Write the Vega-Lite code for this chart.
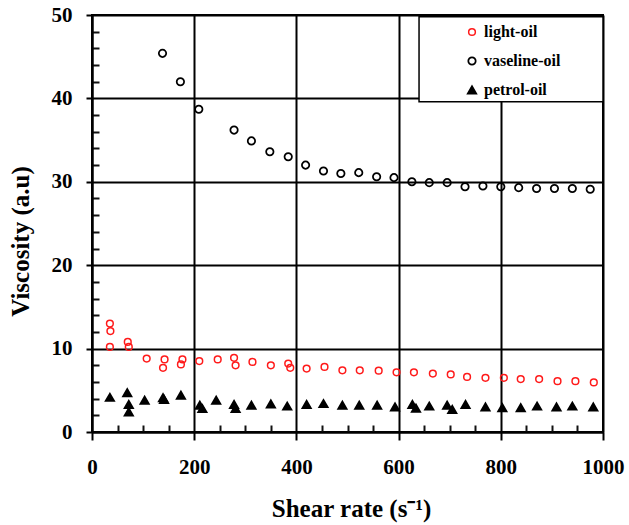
{
  "$schema": "https://vega.github.io/schema/vega-lite/v6.json",
  "width": 511,
  "height": 417,
  "autosize": {"type": "none"},
  "padding": {"left": 92, "top": 15, "right": 26, "bottom": 93},
  "background": "white",
  "config": {
    "view": {"stroke": "black", "strokeWidth": 2},
    "axis": {
      "domainColor": "black", "domainWidth": 2, "ticks": true,
      "tickColor": "black", "tickWidth": 2, "tickOpacity": 1,
      "gridColor": "black", "gridWidth": 2,
      "labelFont": "Liberation Serif", "labelFontWeight": "bold", "labelFontSize": 21, "labelColor": "black",
      "labelOverlap": false, "labelBound": false, "labelFlush": false,
      "titleFont": "Liberation Serif", "titleFontWeight": "bold", "titleFontSize": 25, "titleColor": "black"
    },
    "legend": {
      "labelFont": "Liberation Serif", "labelFontWeight": "bold", "labelFontSize": 16, "labelColor": "black"
    }
  },
  "encoding": {
    "x": {"field": "shear", "type": "quantitative", "scale": {"domain": [0, 1000], "nice": false, "zero": false},
          "axis": {"orient": "bottom",
                   "values": [0,50,100,150,200,250,300,350,400,450,500,550,600,650,700,750,800,850,900,950,1000],
                   "ticks": true,
                   "tickSize": {"condition": {"test": "datum.value % 200 === 0", "value": 8}, "value": -7},
                   "tickColor": {"condition": {"test": "datum.value % 200 === 0", "value": "#000000"}, "value": "#111111"},
                   "gridOpacity": {"condition": {"test": "datum.value % 200 === 0", "value": 1}, "value": 0},
                   "labelExpr": "datum.value % 200 === 0 ? format(datum.value, 'd') : ''",
                   "labelPadding": 16,
                   "grid": true, "title": "Shear rate (s⁻¹)", "titleX": 259, "titleY": 76,
                   "titleAlign": "center", "titleBaseline": "middle"}},
    "y": {"field": "visc", "type": "quantitative", "scale": {"domain": [0, 50], "nice": false, "zero": false},
          "axis": {"orient": "left",
                   "values": [0,2,4,6,8,10,12,14,16,18,20,22,24,26,28,30,32,34,36,38,40,42,44,46,48,50],
                   "ticks": true,
                   "tickSize": {"condition": {"test": "datum.value % 10 === 0", "value": 6}, "value": -7},
                   "tickColor": {"condition": {"test": "datum.value % 10 === 0", "value": "#000000"}, "value": "#111111"},
                   "gridOpacity": {"condition": {"test": "datum.value % 10 === 0", "value": 1}, "value": 0},
                   "labelExpr": "datum.value % 10 === 0 ? format(datum.value, 'd') : ''",
                   "labelPadding": 14,
                   "grid": true, "title": "Viscosity (a.u)", "titleX": -72, "titleY": 226,
                   "titleAngle": 270, "titleAlign": "center", "titleBaseline": "middle"}}
  },
  "layer": [
    {
      "data": {"values": [{"shear": 640, "shear2": 1000, "visc": 49.8, "visc2": 39.6}]},
      "mark": {"type": "rect", "fill": "white", "stroke": "black", "strokeWidth": 1.5},
      "encoding": {
        "x2": {"field": "shear2"},
        "y2": {"field": "visc2"}
      }
    },
    {
      "data": {"values": [
        {"series": "light-oil", "shear": 35, "visc": 13.0},
        {"series": "light-oil", "shear": 36, "visc": 12.1},
        {"series": "light-oil", "shear": 35, "visc": 10.2},
        {"series": "light-oil", "shear": 70, "visc": 10.8},
        {"series": "light-oil", "shear": 72, "visc": 10.2},
        {"series": "light-oil", "shear": 107, "visc": 8.8},
        {"series": "light-oil", "shear": 142, "visc": 8.7},
        {"series": "light-oil", "shear": 139, "visc": 7.7},
        {"series": "light-oil", "shear": 177, "visc": 8.7},
        {"series": "light-oil", "shear": 174, "visc": 8.1},
        {"series": "light-oil", "shear": 210, "visc": 8.5},
        {"series": "light-oil", "shear": 246, "visc": 8.7},
        {"series": "light-oil", "shear": 278, "visc": 8.9},
        {"series": "light-oil", "shear": 281, "visc": 8.0},
        {"series": "light-oil", "shear": 314, "visc": 8.4},
        {"series": "light-oil", "shear": 350, "visc": 8.0},
        {"series": "light-oil", "shear": 384, "visc": 8.2},
        {"series": "light-oil", "shear": 388, "visc": 7.7},
        {"series": "light-oil", "shear": 420, "visc": 7.6},
        {"series": "light-oil", "shear": 455, "visc": 7.8},
        {"series": "light-oil", "shear": 490, "visc": 7.4},
        {"series": "light-oil", "shear": 524, "visc": 7.4},
        {"series": "light-oil", "shear": 561, "visc": 7.35},
        {"series": "light-oil", "shear": 596, "visc": 7.15},
        {"series": "light-oil", "shear": 630, "visc": 7.15},
        {"series": "light-oil", "shear": 667, "visc": 7.0},
        {"series": "light-oil", "shear": 702, "visc": 6.9},
        {"series": "light-oil", "shear": 734, "visc": 6.6},
        {"series": "light-oil", "shear": 770, "visc": 6.5},
        {"series": "light-oil", "shear": 806, "visc": 6.5},
        {"series": "light-oil", "shear": 839, "visc": 6.35},
        {"series": "light-oil", "shear": 875, "visc": 6.35},
        {"series": "light-oil", "shear": 911, "visc": 6.1},
        {"series": "light-oil", "shear": 946, "visc": 6.1},
        {"series": "light-oil", "shear": 982, "visc": 5.95},
        {"series": "vaseline-oil", "shear": 138, "visc": 45.4},
        {"series": "vaseline-oil", "shear": 173, "visc": 42.0},
        {"series": "vaseline-oil", "shear": 209, "visc": 38.7},
        {"series": "vaseline-oil", "shear": 278, "visc": 36.2},
        {"series": "vaseline-oil", "shear": 312, "visc": 34.9},
        {"series": "vaseline-oil", "shear": 348, "visc": 33.6},
        {"series": "vaseline-oil", "shear": 384, "visc": 33.0},
        {"series": "vaseline-oil", "shear": 418, "visc": 32.0},
        {"series": "vaseline-oil", "shear": 453, "visc": 31.3},
        {"series": "vaseline-oil", "shear": 487, "visc": 31.0},
        {"series": "vaseline-oil", "shear": 522, "visc": 31.1},
        {"series": "vaseline-oil", "shear": 557, "visc": 30.6},
        {"series": "vaseline-oil", "shear": 591, "visc": 30.5},
        {"series": "vaseline-oil", "shear": 626, "visc": 30.0},
        {"series": "vaseline-oil", "shear": 660, "visc": 29.9},
        {"series": "vaseline-oil", "shear": 695, "visc": 29.9},
        {"series": "vaseline-oil", "shear": 730, "visc": 29.4},
        {"series": "vaseline-oil", "shear": 765, "visc": 29.5},
        {"series": "vaseline-oil", "shear": 800, "visc": 29.4},
        {"series": "vaseline-oil", "shear": 835, "visc": 29.3},
        {"series": "vaseline-oil", "shear": 870, "visc": 29.2},
        {"series": "vaseline-oil", "shear": 905, "visc": 29.2},
        {"series": "vaseline-oil", "shear": 940, "visc": 29.2},
        {"series": "vaseline-oil", "shear": 975, "visc": 29.1},
        {"series": "petrol-oil", "shear": 35, "visc": 4.15},
        {"series": "petrol-oil", "shear": 69, "visc": 4.7},
        {"series": "petrol-oil", "shear": 72, "visc": 3.3},
        {"series": "petrol-oil", "shear": 72, "visc": 2.4},
        {"series": "petrol-oil", "shear": 103, "visc": 3.8},
        {"series": "petrol-oil", "shear": 139, "visc": 4.1},
        {"series": "petrol-oil", "shear": 141, "visc": 3.9},
        {"series": "petrol-oil", "shear": 174, "visc": 4.4},
        {"series": "petrol-oil", "shear": 211, "visc": 3.2},
        {"series": "petrol-oil", "shear": 216, "visc": 2.8},
        {"series": "petrol-oil", "shear": 243, "visc": 3.8},
        {"series": "petrol-oil", "shear": 278, "visc": 3.3},
        {"series": "petrol-oil", "shear": 281, "visc": 2.8},
        {"series": "petrol-oil", "shear": 312, "visc": 3.2},
        {"series": "petrol-oil", "shear": 350, "visc": 3.35},
        {"series": "petrol-oil", "shear": 382, "visc": 3.1},
        {"series": "petrol-oil", "shear": 420, "visc": 3.3},
        {"series": "petrol-oil", "shear": 453, "visc": 3.4},
        {"series": "petrol-oil", "shear": 490, "visc": 3.2},
        {"series": "petrol-oil", "shear": 523, "visc": 3.2},
        {"series": "petrol-oil", "shear": 558, "visc": 3.2},
        {"series": "petrol-oil", "shear": 593, "visc": 3.0},
        {"series": "petrol-oil", "shear": 627, "visc": 3.3},
        {"series": "petrol-oil", "shear": 634, "visc": 2.85},
        {"series": "petrol-oil", "shear": 660, "visc": 3.1},
        {"series": "petrol-oil", "shear": 695, "visc": 3.2},
        {"series": "petrol-oil", "shear": 705, "visc": 2.7},
        {"series": "petrol-oil", "shear": 731, "visc": 3.3},
        {"series": "petrol-oil", "shear": 770, "visc": 3.0},
        {"series": "petrol-oil", "shear": 803, "visc": 2.9},
        {"series": "petrol-oil", "shear": 839, "visc": 2.9},
        {"series": "petrol-oil", "shear": 871, "visc": 3.1},
        {"series": "petrol-oil", "shear": 909, "visc": 3.0},
        {"series": "petrol-oil", "shear": 940, "visc": 3.1},
        {"series": "petrol-oil", "shear": 981, "visc": 3.0}
      ]},
      "mark": {"type": "point", "opacity": 1},
      "encoding": {
        "shape": {"field": "series", "type": "nominal",
                  "scale": {"domain": ["light-oil", "vaseline-oil", "petrol-oil"], "range": ["circle", "circle", "triangle-up"]},
                  "legend": {"title": null, "orient": "none", "legendX": 372, "legendY": 9, "padding": 0, "zindex": 2,
                             "rowPadding": 13, "labelOffset": 4,
                             "labelFont": "Liberation Serif", "labelFontWeight": "bold", "labelFontSize": 16, "labelColor": "black"}},
        "stroke": {"field": "series", "type": "nominal",
                   "scale": {"domain": ["light-oil", "vaseline-oil", "petrol-oil"], "range": ["#ff1a1a", "#000000", "#000000"]}},
        "fill": {"field": "series", "type": "nominal",
                 "scale": {"domain": ["light-oil", "vaseline-oil", "petrol-oil"], "range": ["transparent", "transparent", "#000000"]}},
        "size": {"field": "series", "type": "nominal",
                 "scale": {"domain": ["light-oil", "vaseline-oil", "petrol-oil"], "range": [45, 64, 70]}},
        "strokeWidth": {"field": "series", "type": "nominal",
                        "scale": {"domain": ["light-oil", "vaseline-oil", "petrol-oil"], "range": [1.5, 2, 1]}}
      }
    }
  ]
}
